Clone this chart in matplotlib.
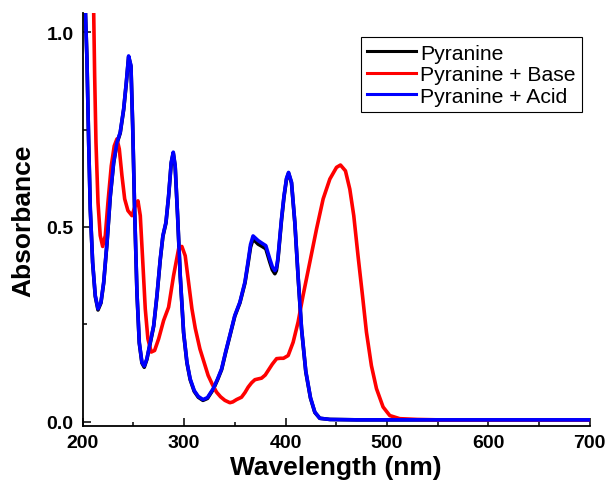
import matplotlib
matplotlib.use("Agg")
import matplotlib.pyplot as plt
from matplotlib.ticker import MultipleLocator

plt.rcParams["font.family"] = ["Liberation Sans", "DejaVu Sans"]

# Pyranine + Acid (blue)
acid_nm = [200, 202.6, 204.2, 205.9, 207.5, 209.8, 212.4, 215.1, 218, 220.7, 224,
           227.2, 230.5, 233.8, 237, 240.4, 243, 245.3, 247.6, 249.3, 251.2, 253.5,
           255.8, 258.4, 260.7, 263.3, 266.6, 270, 273.2, 276.5, 279.1, 282.1, 284.7,
           287.3, 289.3, 291.2, 293.6, 296.2, 299.5, 302.8, 306, 310, 314, 318.6, 323,
           328.7, 333, 337, 341, 345, 350, 355, 360, 363, 365.5, 368, 373, 377, 380.6,
           384.5, 387, 389.5, 391, 392.5, 396, 398.5, 401, 403, 405.9, 409.2, 412.5,
           415.8, 420, 424.6, 428.9, 433.8, 443.7, 470, 500, 550, 600, 650, 700]
acid_abs = [1.2, 1.059, 0.931, 0.717, 0.546, 0.41, 0.324, 0.29, 0.307, 0.358, 0.461,
            0.58, 0.666, 0.717, 0.743, 0.803, 0.871, 0.939, 0.914, 0.76, 0.546, 0.333,
            0.204, 0.153, 0.143, 0.162, 0.204, 0.247, 0.324, 0.418, 0.478, 0.512, 0.58,
            0.666, 0.692, 0.657, 0.529, 0.375, 0.23, 0.153, 0.11, 0.08, 0.065, 0.057,
            0.062, 0.085, 0.11, 0.136, 0.18, 0.221, 0.273, 0.307, 0.359, 0.41, 0.455,
            0.477, 0.465, 0.458, 0.452, 0.418, 0.398, 0.388, 0.395, 0.42, 0.52, 0.58,
            0.625, 0.64, 0.615, 0.512, 0.37, 0.24, 0.13, 0.062, 0.025, 0.009, 0.006,
            0.005, 0.005, 0.005, 0.005, 0.005, 0.005]

# Pyranine (black), almost identical to the acid trace
pyr_nm = acid_nm
pyr_abs = [1.2, 1.059, 0.931, 0.717, 0.545, 0.408, 0.322, 0.287, 0.305, 0.356, 0.459,
           0.578, 0.664, 0.715, 0.741, 0.801, 0.869, 0.937, 0.912, 0.758, 0.544, 0.331,
           0.202, 0.151, 0.140, 0.160, 0.202, 0.245, 0.322, 0.416, 0.476, 0.510, 0.578,
           0.664, 0.690, 0.655, 0.527, 0.373, 0.228, 0.151, 0.108, 0.078, 0.063, 0.055,
           0.060, 0.083, 0.108, 0.134, 0.178, 0.219, 0.271, 0.305, 0.356, 0.405, 0.448,
           0.469, 0.456, 0.450, 0.444, 0.410, 0.390, 0.380, 0.388, 0.415, 0.516, 0.577,
           0.623, 0.638, 0.613, 0.510, 0.368, 0.238, 0.128, 0.061, 0.024, 0.009, 0.006,
           0.005, 0.005, 0.005, 0.005, 0.005, 0.005]

# Pyranine + Base (red)
base_nm = [200, 205, 208, 210.8, 211.8, 213.1, 215.1, 217.3, 219.7, 222.3, 224.9,
           228.2, 231.1, 233.8, 236.1, 238.7, 241.4, 244.6, 248.6, 251.9, 254.5,
           256.8, 259.1, 261.7, 264.3, 267.6, 270.9, 274.9, 279.8, 284.7, 289.6,
           294.6, 297.8, 301.1, 304.4, 307.7, 311, 315.6, 320, 323.7, 328, 332, 336,
           340.2, 345.1, 348, 351.7, 356.6, 360, 363.2, 366.5, 369.8, 373, 376.4, 380,
           383, 387, 391.2, 395, 398, 402.6, 407.5, 412.4, 417.3, 424, 430.6, 437.1,
           443.7, 450.3, 454.2, 459.1, 463.4, 467.3, 471.5, 475.9, 479.8, 484.7,
           489.7, 496.2, 502.8, 512.6, 530, 550, 600, 650, 700]
base_abs = [2.0, 1.6, 1.3, 1.059, 0.888, 0.717, 0.563, 0.478, 0.45, 0.478, 0.563,
            0.657, 0.708, 0.726, 0.70, 0.632, 0.572, 0.542, 0.529, 0.555, 0.567,
            0.529, 0.418, 0.29, 0.213, 0.179, 0.183, 0.213, 0.26, 0.294, 0.375, 0.444,
            0.45, 0.426, 0.358, 0.29, 0.24, 0.187, 0.15, 0.119, 0.095, 0.076, 0.064,
            0.055, 0.049, 0.051, 0.057, 0.063, 0.075, 0.089, 0.1, 0.108, 0.11, 0.112,
            0.12, 0.132, 0.148, 0.162, 0.163, 0.163, 0.17, 0.204, 0.256, 0.324, 0.41,
            0.495, 0.572, 0.623, 0.653, 0.659, 0.644, 0.597, 0.529, 0.426, 0.324, 0.23,
            0.144, 0.085, 0.038, 0.016, 0.008, 0.006, 0.005, 0.005, 0.005, 0.005]

fig = plt.figure(figsize=(6.08, 4.85), dpi=100)
ax = fig.add_axes([0.136, 0.12, 0.834, 0.851])

ax.plot(pyr_nm, pyr_abs, color="black", lw=2.6, label="Pyranine")
ax.plot(base_nm, base_abs, color="red", lw=2.6, label="Pyranine + Base")
ax.plot(acid_nm, acid_abs, color="blue", lw=2.6, label="Pyranine + Acid")

ax.set_xlim(200, 700)
ax.set_ylim(-0.0103, 1.049)
ax.xaxis.set_major_locator(MultipleLocator(100))
ax.xaxis.set_minor_locator(MultipleLocator(50))
ax.yaxis.set_major_locator(MultipleLocator(0.5))
ax.yaxis.set_minor_locator(MultipleLocator(0.25))
ax.tick_params(which="both", direction="in", width=1.1, labelsize=14)
ax.tick_params(which="major", length=6)
ax.tick_params(which="minor", length=3)
ax.tick_params(axis="x", pad=6)
ax.tick_params(axis="y", pad=6.5)
for lab in ax.get_xticklabels() + ax.get_yticklabels():
    lab.set_fontweight("bold")

for side in ["top", "right"]:
    ax.spines[side].set_visible(False)
for side in ["left", "bottom"]:
    ax.spines[side].set_linewidth(1.3)

ax.set_xlabel("Wavelength (nm)", fontsize=19, fontweight="bold", labelpad=3)
ax.set_ylabel("Absorbance", fontsize=19, fontweight="bold", labelpad=8)

leg = ax.legend(loc="upper right", bbox_to_anchor=(0.957, 0.921),
                bbox_transform=fig.transFigure, fontsize=15.2, fancybox=False,
                edgecolor="black", framealpha=1, borderaxespad=0,
                handlelength=2.3, handletextpad=0.2, labelspacing=0.12,
                borderpad=0.3)
leg.get_frame().set_linewidth(0.8)
for line in leg.get_lines():
    line.set_linewidth(2.2)

fig.savefig("out.png", dpi=100)
